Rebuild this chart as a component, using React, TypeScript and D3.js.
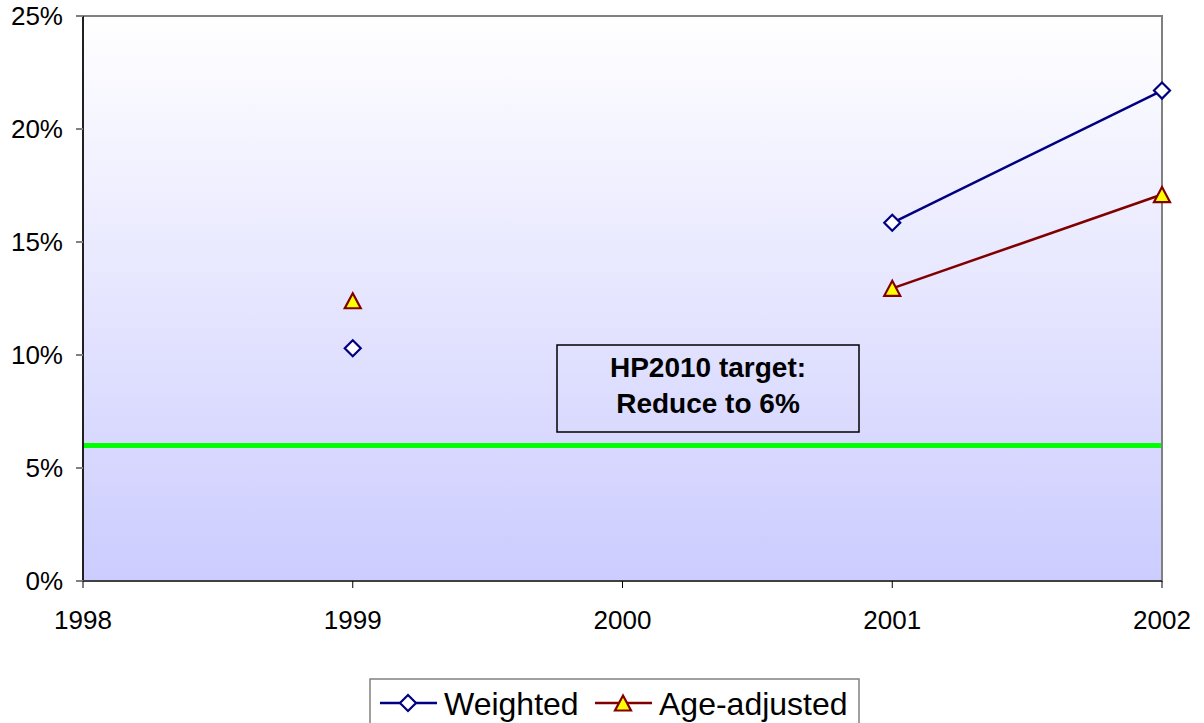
import { useEffect, useRef } from "react";
import * as d3 from "d3";

// years along the x axis and the two series (null = no survey that year)
const years = [1998, 1999, 2000, 2001, 2002];
const weighted: (number | null)[] = [null, 10.3, null, 15.85, 21.7];
const ageAdjusted: (number | null)[] = [null, 12.4, null, 12.95, 17.1];
const yTicks = [0, 5, 10, 15, 20, 25];
const target = 6;
const targetLines = ["HP2010 target:", "Reduce to 6%"];

const FONT = "Arial, 'Liberation Sans', sans-serif";

// 标记形状（以包围盒中心为原点）
const diamondPath = "M0,-8L8,0L0,8L-8,0Z";
const trianglePath = "M0,-7.5L8,7.5L-8,7.5Z";

const App = () => {
  const svgRef = useRef<SVGSVGElement>(null);

  useEffect(() => {
    if (!svgRef.current) return;
    const width = 1204;
    const height = 723;
    const m = { left: 83, right: 1162, top: 16, bottom: 581 };

    const svg = d3.select(svgRef.current);
    svg.selectAll("*").remove();
    svg.attr("width", width).attr("height", height).style("font-family", FONT);

    const x = d3.scaleLinear().domain([1998, 2002]).range([m.left, m.right]);
    const y = d3.scaleLinear().domain([0, 25]).range([m.bottom, m.top]);

    // 背景渐变
    const grad = svg
      .append("defs")
      .append("linearGradient")
      .attr("id", "bg")
      .attr("x1", 0)
      .attr("y1", 0)
      .attr("x2", 0)
      .attr("y2", 1);
    grad.append("stop").attr("offset", "0%").attr("stop-color", "#ffffff");
    grad.append("stop").attr("offset", "100%").attr("stop-color", "#ccccff");

    svg
      .append("rect")
      .attr("x", m.left)
      .attr("y", m.top)
      .attr("width", m.right - m.left)
      .attr("height", m.bottom - m.top)
      .attr("fill", "url(#bg)")
      .attr("stroke", "#808080")
      .attr("stroke-width", 2);

    // y axis
    const yAxis = svg.append("g").attr("transform", `translate(${m.left},0)`);
    yAxis
      .append("line")
      .attr("y1", m.top)
      .attr("y2", m.bottom)
      .attr("stroke", "#000")
      .attr("stroke-width", 1.5);
    yTicks.forEach((t) => {
      yAxis
        .append("line")
        .attr("x1", -7)
        .attr("x2", 0)
        .attr("y1", y(t))
        .attr("y2", y(t))
        .attr("stroke", "#808080")
        .attr("stroke-width", 2);
      yAxis
        .append("text")
        .attr("x", -20)
        .attr("y", y(t))
        .attr("dy", "0.35em")
        .attr("text-anchor", "end")
        .style("font-size", "26px")
        .text(`${t}%`);
    });

    // x axis
    const xAxis = svg.append("g");
    xAxis
      .append("line")
      .attr("x1", m.left)
      .attr("x2", m.right)
      .attr("y1", m.bottom)
      .attr("y2", m.bottom)
      .attr("stroke", "#404040")
      .attr("stroke-width", 2);
    years.forEach((yr) => {
      xAxis
        .append("line")
        .attr("x1", x(yr))
        .attr("x2", x(yr))
        .attr("y1", m.bottom)
        .attr("y2", m.bottom + 7)
        .attr("stroke", "#000")
        .attr("stroke-width", 1);
      xAxis
        .append("text")
        .attr("x", x(yr))
        .attr("y", 629)
        .attr("text-anchor", "middle")
        .style("font-size", "26px")
        .text(yr);
    });

    // target line
    svg
      .append("line")
      .attr("x1", m.left + 1)
      .attr("x2", m.right - 1)
      .attr("y1", y(target))
      .attr("y2", y(target))
      .attr("stroke", "#00ff00")
      .attr("stroke-width", 5);

    // target box
    svg
      .append("rect")
      .attr("x", 557)
      .attr("y", 345)
      .attr("width", 302)
      .attr("height", 87)
      .attr("fill", "none")
      .attr("stroke", "#000")
      .attr("stroke-width", 1.5);
    targetLines.forEach((t, i) => {
      svg
        .append("text")
        .attr("x", 708)
        .attr("y", 377 + i * 36)
        .attr("text-anchor", "middle")
        .style("font-size", "28px")
        .style("font-weight", "bold")
        .text(t);
    });

    const line = d3
      .line<number | null>()
      .defined((d) => d !== null)
      .x((_, i) => x(years[i]))
      .y((d) => y(d as number));

    const series = [
      { data: weighted, color: "#000080", sym: diamondPath, fill: "#ffffff" },
      { data: ageAdjusted, color: "#800000", sym: trianglePath, fill: "#ffff00" },
    ];

    series.forEach((s) => {
      svg
        .append("path")
        .datum(s.data)
        .attr("d", line)
        .attr("fill", "none")
        .attr("stroke", s.color)
        .attr("stroke-width", 2.5);
      svg
        .selectAll(null)
        .data(s.data.map((v, i) => ({ v, yr: years[i] })).filter((d) => d.v !== null))
        .join("path")
        .attr("transform", (d) => `translate(${x(d.yr)},${y(d.v as number)})`)
        .attr("d", s.sym)
        .attr("fill", s.fill)
        .attr("stroke", s.color)
        .attr("stroke-width", 2.2);
    });

    // legend
    const lg = svg.append("g");
    lg.append("rect")
      .attr("x", 370)
      .attr("y", 679)
      .attr("width", 489)
      .attr("height", 50)
      .attr("fill", "#fff")
      .attr("stroke", "#808080")
      .attr("stroke-width", 1.5);
    const items = [
      { label: "Weighted", x0: 380, tx: 444, s: series[0] },
      { label: "Age-adjusted", x0: 595, tx: 659, s: series[1] },
    ];
    items.forEach((it) => {
      lg.append("line")
        .attr("x1", it.x0)
        .attr("x2", it.x0 + 57)
        .attr("y1", 703)
        .attr("y2", 703)
        .attr("stroke", it.s.color)
        .attr("stroke-width", 2.5);
      lg.append("path")
        .attr("transform", `translate(${it.x0 + 28},703)`)
        .attr("d", it.s.sym)
        .attr("fill", it.s.fill)
        .attr("stroke", it.s.color)
        .attr("stroke-width", 2.2);
      lg.append("text")
        .attr("x", it.tx)
        .attr("y", 715)
        .style("font-size", "32px")
        .text(it.label);
    });
  }, []);

  return (
    <svg
      ref={svgRef}
      style={{ position: "absolute", left: 0, top: 0, display: "block" }}
    ></svg>
  );
};

export default App;
